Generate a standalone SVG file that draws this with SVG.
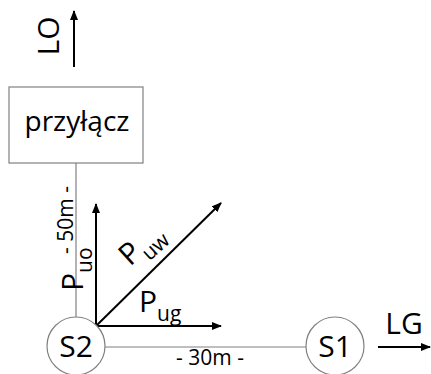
<svg xmlns="http://www.w3.org/2000/svg" width="431" height="374" viewBox="0 0 431 374">
<defs>
<style>
.thin{stroke:#808080;stroke-width:1.2;fill:none}
.node{stroke:#808080;stroke-width:1.2;fill:#fff}
.vec{stroke:#000;stroke-width:2;fill:none}
text{font-family:"Open Sans","Liberation Sans",sans-serif;fill:#000}
.big{font-size:30px}
.lbl{font-size:21px}
.sub{font-size:21px}
</style>
<marker id="ah" viewBox="0 0 10 8" refX="9" refY="4" markerWidth="10" markerHeight="8" markerUnits="userSpaceOnUse" orient="auto">
<path d="M0,0 L10,4 L0,8 Z" fill="#000"/>
</marker>
</defs>
<rect width="431" height="374" fill="#fff"/>
<g id="connectors">
<line class="thin" x1="76" y1="163" x2="76" y2="317"/>
<line class="thin" x1="105" y1="347" x2="306" y2="347"/>
<line class="vec" x1="74" y1="67" x2="74" y2="11" marker-end="url(#ah)"/>
<line class="vec" x1="378" y1="347" x2="430" y2="347" marker-end="url(#ah)"/>
<line class="vec" x1="96" y1="326" x2="96" y2="204" marker-end="url(#ah)"/>
<line class="vec" x1="96" y1="326" x2="221" y2="326" marker-end="url(#ah)"/>
<line class="vec" x1="96" y1="326" x2="221" y2="203" marker-end="url(#ah)"/>
<text class="lbl" transform="translate(73,220) rotate(-90)" text-anchor="middle">- 50m -</text>
<text class="lbl" x="210" y="365" text-anchor="middle">- 30m -</text>
<text class="big" transform="translate(83,291) rotate(-90)">P<tspan class="sub" dy="9">uo</tspan></text>
<text class="big" transform="translate(130,267) rotate(-42)">P<tspan class="sub" dy="9">uw</tspan></text>
<text class="big" x="139" y="312">P<tspan class="sub" dy="9">ug</tspan></text>
</g>
<g id="LO">
<text class="big" transform="translate(59,36) rotate(-90)" text-anchor="middle">LO</text>
</g>
<g id="przylacz">
<rect class="node" x="9" y="87" width="134" height="76"/>
<text x="77" y="131" text-anchor="middle" font-size="28">przyłącz</text>
</g>
<g id="S2">
<circle class="node" cx="76" cy="346" r="29"/>
<text class="big" x="76" y="357" text-anchor="middle">S2</text>
</g>
<g id="S1">
<circle class="node" cx="335" cy="346" r="29"/>
<text class="big" x="335" y="357" text-anchor="middle">S1</text>
</g>
<g id="LG">
<text class="big" x="404" y="334" text-anchor="middle">LG</text>
</g>
</svg>
